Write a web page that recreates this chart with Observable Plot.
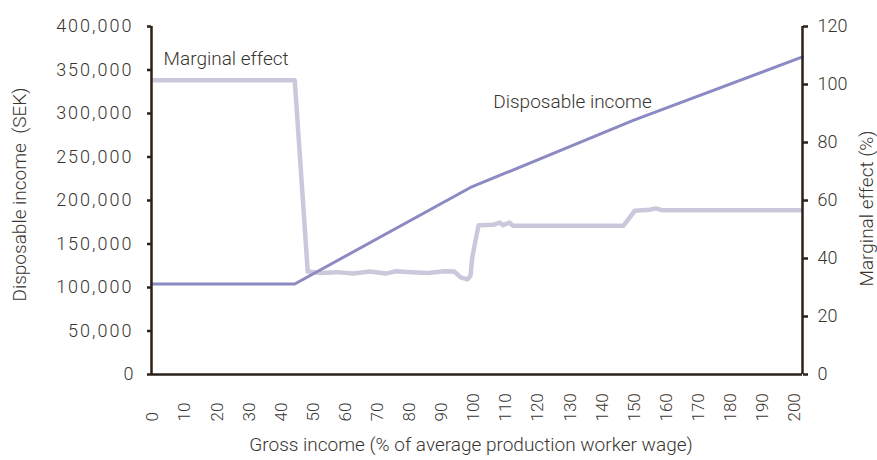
<!DOCTYPE html>
<html>
<head>
<meta charset="utf-8">
<script src="https://cdn.jsdelivr.net/npm/d3@7"></script>
<script src="https://cdn.jsdelivr.net/npm/@observablehq/plot@0.6"></script>
<style>
  html, body { margin: 0; padding: 0; background: #ffffff; }
  #chart { width: 877px; height: 460px; }
</style>
</head>
<body>
<div id="chart"></div>
<script>
// Disposable income (SEK) by gross income (% of APW wage)
const dispGross = [0, 44, 98, 148, 200];
const dispValue = [104000, 104000, 215000, 292000, 365000];

// Marginal effect (%) by gross income
const margGross = [0, 44, 48, 52, 57, 62, 67, 72, 75, 80, 85, 90, 93, 95, 97, 98, 98.5, 99.5, 100.5, 105, 107, 108, 110, 111, 145, 148.5, 153, 155, 157, 200];
const margValue = [101.5, 101.5, 35.5, 35.0, 35.3, 34.8, 35.5, 34.8, 35.6, 35.3, 35.0, 35.6, 35.5, 33.5, 32.8, 34.0, 40.0, 46.0, 51.5, 51.6, 52.4, 51.5, 52.4, 51.3, 51.3, 56.5, 56.8, 57.3, 56.6, 56.6];

// Axes
const xTicks = [0, 10, 20, 30, 40, 50, 60, 70, 80, 90, 100, 110, 120, 130, 140, 150, 160, 170, 180, 190, 200];
const leftTicks = [0, 50000, 100000, 150000, 200000, 250000, 300000, 350000, 400000];
const rightTicks = [0, 20, 40, 60, 80, 100, 120];
const leftMax = 400000;
const rightMax = 120;

// Annotations
const noteLabels = ["Marginal effect", "Disposable income"];
const noteGross = [3.7, 105];
const noteValue = [362600, 313200];

const K = leftMax / rightMax;
const disp = dispGross.map((g, i) => ({g, v: dispValue[i]}));
const marg = margGross.map((g, i) => ({g, v: margValue[i]}));
const notes = noteLabels.map((label, i) => ({label, g: noteGross[i], v: noteValue[i]}));

const axisColor = "#2a2118";
const textColor = "#3a3530";
const font = "Roboto, 'Liberation Sans', sans-serif";

// The original category axis places its labels on a slightly tighter, offset grid
const labelPos = d => 2.1 + d * 0.986;

const chart = Plot.plot({
  width: 877,
  height: 460,
  marginLeft: 151,
  marginRight: 75,
  marginTop: 26,
  marginBottom: 86,
  x: {domain: [0, 200], axis: null},
  y: {domain: [0, leftMax], axis: null},
  style: {fontFamily: font, fontSize: "17px", color: textColor, background: "#ffffff", fontWeight: 300},
  marks: [
    Plot.lineY(marg, {x: "g", y: d => d.v * K, stroke: "#cbc8dc", strokeWidth: 4.5, strokeLinejoin: "round", strokeLinecap: "butt"}),
    Plot.lineY(disp, {x: "g", y: "v", stroke: "#8b8ac3", strokeWidth: 3, strokeLinejoin: "round"}),
    Plot.ruleY([0], {stroke: axisColor, strokeWidth: 2.5}),
    Plot.ruleX([0], {stroke: axisColor, strokeWidth: 2.5}),
    Plot.ruleX([200], {stroke: axisColor, strokeWidth: 2.5}),
    Plot.axisY({anchor: "left", ticks: leftTicks, tickSize: 4, tickPadding: 14, tickFormat: d3.format(","),
      stroke: axisColor, strokeWidth: 2.5, fill: textColor, fontSize: 18, label: null}),
    Plot.axisY({anchor: "right", ticks: rightTicks.map(v => v * K), tickSize: 5, tickPadding: 10,
      tickFormat: d => String(Math.round(d / K)), stroke: axisColor, strokeWidth: 2.5, fill: textColor, fontSize: 18, label: null}),
    Plot.text(xTicks, {x: labelPos, text: d => String(d), frameAnchor: "bottom", rotate: -90, textAnchor: "start",
      dy: 47, fontSize: 17, fill: textColor}),
    Plot.text(notes, {x: "g", y: "v", text: "label", textAnchor: "start", fontSize: 19, fill: textColor}),
    Plot.text(["Disposable income  (SEK)"], {frameAnchor: "left", textAnchor: "middle", rotate: -90, dx: -132, dy: -6, fontSize: 19, fill: textColor}),
    Plot.text(["Marginal effect (%)"], {frameAnchor: "right", textAnchor: "middle", rotate: -90, dx: 64, dy: 8, fontSize: 19, fill: textColor}),
    Plot.text(["Gross income (% of average production worker wage)"], {frameAnchor: "bottom", textAnchor: "middle", dy: 76, dx: -6, fontSize: 19, fill: textColor})
  ]
});

document.getElementById("chart").appendChild(chart);
d3.select(chart).selectAll("text").each(function() {
  const t = this.textContent;
  if (/^\d{1,3}(,\d{3})+$/.test(t)) d3.select(this).attr("letter-spacing", "2px");
});
</script>
</body>
</html>
